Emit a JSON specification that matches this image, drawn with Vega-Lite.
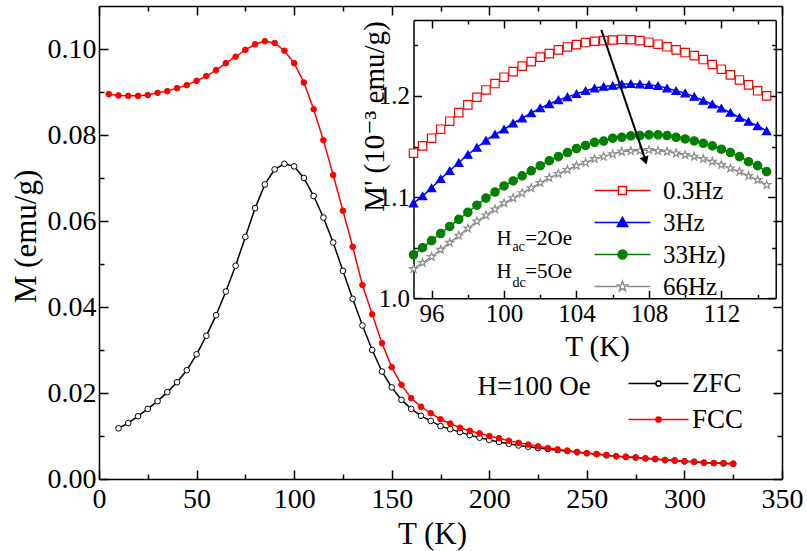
{
  "$schema": "https://vega.github.io/schema/vega-lite/v6.json",
  "width": 683,
  "height": 473,
  "autosize": {"type": "none"},
  "padding": {"left": 99, "top": 6, "right": 25, "bottom": 72},
  "background": "white",
  "datasets": {
    "main": [
      {"s":"ZFC","T":10,"M":0.0118},{"s":"ZFC","T":15,"M":0.0130},{"s":"ZFC","T":20,"M":0.0146},{"s":"ZFC","T":25,"M":0.0163},
      {"s":"ZFC","T":30,"M":0.0181},{"s":"ZFC","T":35,"M":0.0202},{"s":"ZFC","T":40,"M":0.0225},{"s":"ZFC","T":45,"M":0.0253},
      {"s":"ZFC","T":50,"M":0.0290},{"s":"ZFC","T":55,"M":0.0333},{"s":"ZFC","T":60,"M":0.0381},{"s":"ZFC","T":65,"M":0.0436},
      {"s":"ZFC","T":70,"M":0.0496},{"s":"ZFC","T":75,"M":0.0563},{"s":"ZFC","T":80,"M":0.0630},{"s":"ZFC","T":85,"M":0.0685},
      {"s":"ZFC","T":90,"M":0.0720},{"s":"ZFC","T":95,"M":0.0733},{"s":"ZFC","T":100,"M":0.0727},{"s":"ZFC","T":105,"M":0.0700},
      {"s":"ZFC","T":110,"M":0.0658},{"s":"ZFC","T":115,"M":0.0608},{"s":"ZFC","T":120,"M":0.0550},{"s":"ZFC","T":125,"M":0.0484},
      {"s":"ZFC","T":130,"M":0.0419},{"s":"ZFC","T":135,"M":0.0357},{"s":"ZFC","T":140,"M":0.0300},{"s":"ZFC","T":145,"M":0.0250},
      {"s":"ZFC","T":150,"M":0.0213},{"s":"ZFC","T":155,"M":0.0184},{"s":"ZFC","T":160,"M":0.0163},{"s":"ZFC","T":165,"M":0.0147},
      {"s":"ZFC","T":170,"M":0.0135},{"s":"ZFC","T":175,"M":0.0123},{"s":"ZFC","T":180,"M":0.0116},{"s":"ZFC","T":185,"M":0.0109},
      {"s":"ZFC","T":190,"M":0.0102},{"s":"ZFC","T":195,"M":0.0096},{"s":"ZFC","T":200,"M":0.0091},{"s":"ZFC","T":205,"M":0.0086},
      {"s":"ZFC","T":210,"M":0.0082},{"s":"ZFC","T":215,"M":0.0078},{"s":"ZFC","T":220,"M":0.0075},{"s":"ZFC","T":225,"M":0.0072},
      {"s":"ZFC","T":230,"M":0.0070},{"s":"ZFC","T":235,"M":0.0067},{"s":"ZFC","T":240,"M":0.0065},{"s":"ZFC","T":245,"M":0.0062},
      {"s":"ZFC","T":250,"M":0.0060},{"s":"ZFC","T":255,"M":0.0058},{"s":"ZFC","T":260,"M":0.0055},{"s":"ZFC","T":265,"M":0.0053},
      {"s":"ZFC","T":270,"M":0.0051},{"s":"ZFC","T":275,"M":0.0050},{"s":"ZFC","T":280,"M":0.0048},{"s":"ZFC","T":285,"M":0.0046},
      {"s":"ZFC","T":290,"M":0.0044},{"s":"ZFC","T":295,"M":0.0043},{"s":"ZFC","T":300,"M":0.0041},{"s":"ZFC","T":305,"M":0.0040},
      {"s":"ZFC","T":310,"M":0.0038},{"s":"ZFC","T":315,"M":0.0037},{"s":"ZFC","T":320,"M":0.0036},{"s":"ZFC","T":325,"M":0.0035},
      {"s":"FCC","T":5,"M":0.0895},{"s":"FCC","T":10,"M":0.0892},{"s":"FCC","T":15,"M":0.0891},{"s":"FCC","T":20,"M":0.0891},
      {"s":"FCC","T":25,"M":0.0893},{"s":"FCC","T":30,"M":0.0898},{"s":"FCC","T":35,"M":0.0902},{"s":"FCC","T":40,"M":0.0909},
      {"s":"FCC","T":45,"M":0.0916},{"s":"FCC","T":50,"M":0.0926},{"s":"FCC","T":55,"M":0.0937},{"s":"FCC","T":60,"M":0.0951},
      {"s":"FCC","T":65,"M":0.0967},{"s":"FCC","T":70,"M":0.0982},{"s":"FCC","T":75,"M":0.0998},{"s":"FCC","T":80,"M":0.1011},
      {"s":"FCC","T":85,"M":0.1018},{"s":"FCC","T":90,"M":0.1014},{"s":"FCC","T":95,"M":0.0996},{"s":"FCC","T":100,"M":0.0967},
      {"s":"FCC","T":105,"M":0.0922},{"s":"FCC","T":110,"M":0.0860},{"s":"FCC","T":115,"M":0.0788},{"s":"FCC","T":120,"M":0.0707},
      {"s":"FCC","T":125,"M":0.0624},{"s":"FCC","T":130,"M":0.0540},{"s":"FCC","T":135,"M":0.0451},{"s":"FCC","T":140,"M":0.0383},
      {"s":"FCC","T":145,"M":0.0316},{"s":"FCC","T":150,"M":0.0260},{"s":"FCC","T":155,"M":0.0219},{"s":"FCC","T":160,"M":0.0188},
      {"s":"FCC","T":165,"M":0.0168},{"s":"FCC","T":170,"M":0.0153},{"s":"FCC","T":175,"M":0.0139},{"s":"FCC","T":180,"M":0.0129},
      {"s":"FCC","T":185,"M":0.0119},{"s":"FCC","T":190,"M":0.0112},{"s":"FCC","T":195,"M":0.0106},{"s":"FCC","T":200,"M":0.0100},
      {"s":"FCC","T":205,"M":0.0095},{"s":"FCC","T":210,"M":0.0089},{"s":"FCC","T":215,"M":0.0084},{"s":"FCC","T":220,"M":0.0080},
      {"s":"FCC","T":225,"M":0.0076},{"s":"FCC","T":230,"M":0.0072},{"s":"FCC","T":235,"M":0.0069},{"s":"FCC","T":240,"M":0.0066},
      {"s":"FCC","T":245,"M":0.0063},{"s":"FCC","T":250,"M":0.0060},{"s":"FCC","T":255,"M":0.0058},{"s":"FCC","T":260,"M":0.0056},
      {"s":"FCC","T":265,"M":0.0053},{"s":"FCC","T":270,"M":0.0052},{"s":"FCC","T":275,"M":0.0050},{"s":"FCC","T":280,"M":0.0048},
      {"s":"FCC","T":285,"M":0.0047},{"s":"FCC","T":290,"M":0.0044},{"s":"FCC","T":295,"M":0.0043},{"s":"FCC","T":300,"M":0.0041},
      {"s":"FCC","T":305,"M":0.0040},{"s":"FCC","T":310,"M":0.0038},{"s":"FCC","T":315,"M":0.0037},{"s":"FCC","T":320,"M":0.0037},
      {"s":"FCC","T":325,"M":0.0036}
    ],
    "inset": [
      {"f":"0.3Hz","Ti":95,"Mi":1.1434},{"f":"0.3Hz","Ti":95.5,"Mi":1.1506},{"f":"0.3Hz","Ti":96,"Mi":1.1582},{"f":"0.3Hz","Ti":96.5,"Mi":1.1671},
      {"f":"0.3Hz","Ti":97,"Mi":1.1750},{"f":"0.3Hz","Ti":97.5,"Mi":1.1835},{"f":"0.3Hz","Ti":98,"Mi":1.1911},{"f":"0.3Hz","Ti":98.5,"Mi":1.1987},
      {"f":"0.3Hz","Ti":99,"Mi":1.2059},{"f":"0.3Hz","Ti":99.5,"Mi":1.2122},{"f":"0.3Hz","Ti":100,"Mi":1.2185},{"f":"0.3Hz","Ti":100.5,"Mi":1.2240},
      {"f":"0.3Hz","Ti":101,"Mi":1.2294},{"f":"0.3Hz","Ti":101.5,"Mi":1.2339},{"f":"0.3Hz","Ti":102,"Mi":1.2383},{"f":"0.3Hz","Ti":102.5,"Mi":1.2418},
      {"f":"0.3Hz","Ti":103,"Mi":1.2455},{"f":"0.3Hz","Ti":103.5,"Mi":1.2484},{"f":"0.3Hz","Ti":104,"Mi":1.2507},{"f":"0.3Hz","Ti":104.5,"Mi":1.2527},
      {"f":"0.3Hz","Ti":105,"Mi":1.2540},{"f":"0.3Hz","Ti":105.5,"Mi":1.2546},{"f":"0.3Hz","Ti":106,"Mi":1.2552},{"f":"0.3Hz","Ti":106.5,"Mi":1.2558},
      {"f":"0.3Hz","Ti":107,"Mi":1.2555},{"f":"0.3Hz","Ti":107.5,"Mi":1.2546},{"f":"0.3Hz","Ti":108,"Mi":1.2531},{"f":"0.3Hz","Ti":108.5,"Mi":1.2511},
      {"f":"0.3Hz","Ti":109,"Mi":1.2485},{"f":"0.3Hz","Ti":109.5,"Mi":1.2455},{"f":"0.3Hz","Ti":110,"Mi":1.2428},{"f":"0.3Hz","Ti":110.5,"Mi":1.2398},
      {"f":"0.3Hz","Ti":111,"Mi":1.2359},{"f":"0.3Hz","Ti":111.5,"Mi":1.2310},{"f":"0.3Hz","Ti":112,"Mi":1.2264},{"f":"0.3Hz","Ti":112.5,"Mi":1.2208},
      {"f":"0.3Hz","Ti":113,"Mi":1.2158},{"f":"0.3Hz","Ti":113.5,"Mi":1.2109},{"f":"0.3Hz","Ti":114,"Mi":1.2050},{"f":"0.3Hz","Ti":114.5,"Mi":1.2000},
      {"f":"3Hz","Ti":95,"Mi":1.094},{"f":"3Hz","Ti":95.5,"Mi":1.101},{"f":"3Hz","Ti":96,"Mi":1.109},{"f":"3Hz","Ti":96.5,"Mi":1.118},
      {"f":"3Hz","Ti":97,"Mi":1.126},{"f":"3Hz","Ti":97.5,"Mi":1.134},{"f":"3Hz","Ti":98,"Mi":1.142},{"f":"3Hz","Ti":98.5,"Mi":1.149},
      {"f":"3Hz","Ti":99,"Mi":1.156},{"f":"3Hz","Ti":99.5,"Mi":1.162},{"f":"3Hz","Ti":100,"Mi":1.167},{"f":"3Hz","Ti":100.5,"Mi":1.173},
      {"f":"3Hz","Ti":101,"Mi":1.178},{"f":"3Hz","Ti":101.5,"Mi":1.183},{"f":"3Hz","Ti":102,"Mi":1.188},{"f":"3Hz","Ti":102.5,"Mi":1.192},
      {"f":"3Hz","Ti":103,"Mi":1.196},{"f":"3Hz","Ti":103.5,"Mi":1.199},{"f":"3Hz","Ti":104,"Mi":1.202},{"f":"3Hz","Ti":104.5,"Mi":1.205},
      {"f":"3Hz","Ti":105,"Mi":1.2076},{"f":"3Hz","Ti":105.5,"Mi":1.2092},{"f":"3Hz","Ti":106,"Mi":1.2102},{"f":"3Hz","Ti":106.5,"Mi":1.2116},
      {"f":"3Hz","Ti":107,"Mi":1.2119},{"f":"3Hz","Ti":107.5,"Mi":1.2116},{"f":"3Hz","Ti":108,"Mi":1.2109},{"f":"3Hz","Ti":108.5,"Mi":1.2099},
      {"f":"3Hz","Ti":109,"Mi":1.2076},{"f":"3Hz","Ti":109.5,"Mi":1.2050},{"f":"3Hz","Ti":110,"Mi":1.2027},{"f":"3Hz","Ti":110.5,"Mi":1.1993},
      {"f":"3Hz","Ti":111,"Mi":1.1954},{"f":"3Hz","Ti":111.5,"Mi":1.1918},{"f":"3Hz","Ti":112,"Mi":1.1878},{"f":"3Hz","Ti":112.5,"Mi":1.1835},
      {"f":"3Hz","Ti":113,"Mi":1.1786},{"f":"3Hz","Ti":113.5,"Mi":1.1746},{"f":"3Hz","Ti":114,"Mi":1.1703},{"f":"3Hz","Ti":114.5,"Mi":1.1654},
      {"f":"33Hz)","Ti":95,"Mi":1.043},{"f":"33Hz)","Ti":95.5,"Mi":1.050},{"f":"33Hz)","Ti":96,"Mi":1.057},{"f":"33Hz)","Ti":96.5,"Mi":1.064},
      {"f":"33Hz)","Ti":97,"Mi":1.071},{"f":"33Hz)","Ti":97.5,"Mi":1.078},{"f":"33Hz)","Ti":98,"Mi":1.085},{"f":"33Hz)","Ti":98.5,"Mi":1.092},
      {"f":"33Hz)","Ti":99,"Mi":1.099},{"f":"33Hz)","Ti":99.5,"Mi":1.105},{"f":"33Hz)","Ti":100,"Mi":1.111},{"f":"33Hz)","Ti":100.5,"Mi":1.116},
      {"f":"33Hz)","Ti":101,"Mi":1.121},{"f":"33Hz)","Ti":101.5,"Mi":1.126},{"f":"33Hz)","Ti":102,"Mi":1.131},{"f":"33Hz)","Ti":102.5,"Mi":1.136},
      {"f":"33Hz)","Ti":103,"Mi":1.140},{"f":"33Hz)","Ti":103.5,"Mi":1.144},{"f":"33Hz)","Ti":104,"Mi":1.148},{"f":"33Hz)","Ti":104.5,"Mi":1.151},
      {"f":"33Hz)","Ti":105,"Mi":1.1541},{"f":"33Hz)","Ti":105.5,"Mi":1.1554},{"f":"33Hz)","Ti":106,"Mi":1.1582},{"f":"33Hz)","Ti":106.5,"Mi":1.1591},
      {"f":"33Hz)","Ti":107,"Mi":1.1605},{"f":"33Hz)","Ti":107.5,"Mi":1.1608},{"f":"33Hz)","Ti":108,"Mi":1.1615},{"f":"33Hz)","Ti":108.5,"Mi":1.1615},
      {"f":"33Hz)","Ti":109,"Mi":1.1608},{"f":"33Hz)","Ti":109.5,"Mi":1.1591},{"f":"33Hz)","Ti":110,"Mi":1.1575},{"f":"33Hz)","Ti":110.5,"Mi":1.1555},
      {"f":"33Hz)","Ti":111,"Mi":1.1532},{"f":"33Hz)","Ti":111.5,"Mi":1.1506},{"f":"33Hz)","Ti":112,"Mi":1.1473},{"f":"33Hz)","Ti":112.5,"Mi":1.1440},
      {"f":"33Hz)","Ti":113,"Mi":1.1400},{"f":"33Hz)","Ti":113.5,"Mi":1.1350},{"f":"33Hz)","Ti":114,"Mi":1.1311},{"f":"33Hz)","Ti":114.5,"Mi":1.1252},
      {"f":"66Hz","Ti":95,"Mi":1.029},{"f":"66Hz","Ti":95.5,"Mi":1.035},{"f":"66Hz","Ti":96,"Mi":1.041},{"f":"66Hz","Ti":96.5,"Mi":1.048},
      {"f":"66Hz","Ti":97,"Mi":1.055},{"f":"66Hz","Ti":97.5,"Mi":1.062},{"f":"66Hz","Ti":98,"Mi":1.069},{"f":"66Hz","Ti":98.5,"Mi":1.076},
      {"f":"66Hz","Ti":99,"Mi":1.082},{"f":"66Hz","Ti":99.5,"Mi":1.088},{"f":"66Hz","Ti":100,"Mi":1.094},{"f":"66Hz","Ti":100.5,"Mi":1.099},
      {"f":"66Hz","Ti":101,"Mi":1.104},{"f":"66Hz","Ti":101.5,"Mi":1.109},{"f":"66Hz","Ti":102,"Mi":1.114},{"f":"66Hz","Ti":102.5,"Mi":1.119},
      {"f":"66Hz","Ti":103,"Mi":1.123},{"f":"66Hz","Ti":103.5,"Mi":1.127},{"f":"66Hz","Ti":104,"Mi":1.131},{"f":"66Hz","Ti":104.5,"Mi":1.134},
      {"f":"66Hz","Ti":105,"Mi":1.1377},{"f":"66Hz","Ti":105.5,"Mi":1.1400},{"f":"66Hz","Ti":106,"Mi":1.1424},{"f":"66Hz","Ti":106.5,"Mi":1.1450},
      {"f":"66Hz","Ti":107,"Mi":1.1456},{"f":"66Hz","Ti":107.5,"Mi":1.1460},{"f":"66Hz","Ti":108,"Mi":1.1466},{"f":"66Hz","Ti":108.5,"Mi":1.1456},
      {"f":"66Hz","Ti":109,"Mi":1.1450},{"f":"66Hz","Ti":109.5,"Mi":1.1433},{"f":"66Hz","Ti":110,"Mi":1.1417},{"f":"66Hz","Ti":110.5,"Mi":1.1400},
      {"f":"66Hz","Ti":111,"Mi":1.1377},{"f":"66Hz","Ti":111.5,"Mi":1.1350},{"f":"66Hz","Ti":112,"Mi":1.1318},{"f":"66Hz","Ti":112.5,"Mi":1.1285},
      {"f":"66Hz","Ti":113,"Mi":1.1252},{"f":"66Hz","Ti":113.5,"Mi":1.1209},{"f":"66Hz","Ti":114,"Mi":1.1170},{"f":"66Hz","Ti":114.5,"Mi":1.1120}
    ]
  },
  "layer": [
    {
      "data": {"name": "main"},
      "encoding": {
        "x": {
          "field": "T", "type": "quantitative",
          "scale": {"domain": [0, 350], "nice": false},
          "axis": {
            "orient": "bottom",
            "values": [0, 25, 50, 75, 100, 125, 150, 175, 200, 225, 250, 275, 300, 325, 350],
            "labelExpr": "datum.value % 50 === 0 ? datum.label : ''",
            "tickSize": {"condition": {"test": "datum.value % 50 === 0", "value": -9}, "value": -5},
            "labelPadding": 15, "labelFontSize": 28, "labelFlush": false, "labelOverlap": false,
            "title": "T (K)", "titleFontSize": 31, "titleX": 333, "titleY": 64,
            "titleAlign": "center", "titleBaseline": "alphabetic"
          }
        },
        "y": {
          "field": "M", "type": "quantitative",
          "scale": {"domain": [0, 0.11], "nice": false},
          "axis": {
            "orient": "left",
            "values": [0, 0.01, 0.02, 0.03, 0.04, 0.05, 0.06, 0.07, 0.08, 0.09, 0.1],
            "labelExpr": "round(datum.value * 100) % 2 === 0 ? format(datum.value, '.2f') : ''",
            "tickSize": {"condition": {"test": "round(datum.value * 100) % 2 === 0", "value": -9}, "value": -5},
            "labelPadding": 12, "labelFontSize": 28, "labelOverlap": false,
            "title": "M (emu/g)", "titleFontSize": 31, "titleX": -64, "titleY": 230,
            "titleAngle": -90, "titleAlign": "center", "titleBaseline": "alphabetic"
          }
        },
        "color": {
          "field": "s", "type": "nominal",
          "scale": {"domain": ["ZFC", "FCC"], "range": ["black", "#ff0000"]},
          "legend": null
        }
      },
      "layer": [
        {"mark": {"type": "line", "strokeWidth": 1.5}},
        {
          "mark": {"type": "point", "filled": false, "size": 32, "strokeWidth": 1, "opacity": 1},
          "encoding": {
            "fill": {
              "field": "s", "type": "nominal",
              "scale": {"domain": ["ZFC", "FCC"], "range": ["white", "#ff0000"]},
              "legend": null
            }
          }
        },
        {
          "data": {"values": [{"label": "H=100 Oe", "T": 193.9, "M": 0.0195}]},
          "mark": {"type": "text", "align": "left", "baseline": "alphabetic", "fontSize": 27},
          "encoding": {"text": {"field": "label"}, "color": {"value": "black"}}
        }
      ]
    },
    {
      "data": {"name": "main"},
      "mark": {"type": "point", "opacity": 0},
      "encoding": {
        "x": {
          "field": "T", "type": "quantitative",
          "scale": {"domain": [0, 350], "nice": false},
          "axis": {
            "orient": "top", "labels": false, "title": null,
            "values": [0, 25, 50, 75, 100, 125, 150, 175, 200, 225, 250, 275, 300, 325, 350],
            "tickSize": {"condition": {"test": "datum.value % 50 === 0", "value": -9}, "value": -5}
          }
        },
        "y": {
          "field": "M", "type": "quantitative",
          "scale": {"domain": [0, 0.11], "nice": false},
          "axis": {
            "orient": "right", "labels": false, "title": null,
            "values": [0, 0.01, 0.02, 0.03, 0.04, 0.05, 0.06, 0.07, 0.08, 0.09, 0.1],
            "tickSize": {"condition": {"test": "round(datum.value * 100) % 2 === 0", "value": -9}, "value": -5}
          }
        }
      }
    },
    {
      "data": {"name": "inset"},
      "encoding": {
        "x": {
          "field": "Ti", "type": "quantitative",
          "scale": {"domain": [95, 115], "range": [314.5, 676.7], "nice": false, "zero": false},
          "axis": {
            "orient": "bottom", "offset": -180.7,
            "values": [96, 98, 100, 102, 104, 106, 108, 110, 112, 114],
            "labelExpr": "datum.value % 4 === 0 ? datum.label : ''",
            "tickSize": {"condition": {"test": "datum.value % 4 === 0", "value": -8}, "value": -4},
            "labelPadding": 11, "labelFontSize": 25, "labelFlush": false, "labelOverlap": false,
            "title": "T (K)", "titleFontSize": 29, "titleX": 498, "titleY": 57,
            "titleAlign": "center", "titleBaseline": "alphabetic"
          }
        },
        "y": {
          "field": "Mi", "type": "quantitative",
          "scale": {"domain": [1, 1.275], "range": [292.3, 14], "nice": false, "zero": false},
          "axis": {
            "orient": "left", "offset": -314.5,
            "values": [1, 1.05, 1.1, 1.15, 1.2, 1.25],
            "labelExpr": "round(datum.value * 100) % 10 === 0 ? format(datum.value, '.1f') : ''",
            "tickSize": {"condition": {"test": "round(datum.value * 100) % 10 === 0", "value": -8}, "value": -4},
            "labelPadding": 12, "labelFontSize": 25, "labelOverlap": false,
            "title": "M' (10⁻³ emu/g)", "titleFontSize": 29, "titleX": -30, "titleY": 110,
            "titleAngle": -90, "titleAlign": "center", "titleBaseline": "alphabetic"
          }
        },
        "color": {
          "field": "f", "type": "nominal",
          "scale": {"domain": ["0.3Hz", "3Hz", "33Hz)", "66Hz"], "range": ["#ff0000", "#0000ff", "#008000", "#8c8c8c"]},
          "legend": null
        }
      },
      "layer": [
        {"mark": {"type": "line", "strokeWidth": 1.5}},
        {
          "mark": {"type": "point", "filled": false, "size": 70, "strokeWidth": 1.2, "opacity": 1},
          "encoding": {
            "shape": {
              "field": "f", "type": "nominal",
              "scale": {
                "domain": ["0.3Hz", "3Hz", "33Hz)", "66Hz"],
                "range": ["square", "triangle-up", "circle", "M0,-1L0.235,-0.324L0.951,-0.309L0.380,0.124L0.588,0.809L0,0.4L-0.588,0.809L-0.380,0.124L-0.951,-0.309L-0.235,-0.324Z"]
              },
              "legend": null
            },
            "fill": {
              "field": "f", "type": "nominal",
              "scale": {"domain": ["0.3Hz", "3Hz", "33Hz)", "66Hz"], "range": ["white", "#0000ff", "#008000", "white"]},
              "legend": null
            }
          }
        },
        {
          "data": {"values": [{"Ti": 105.37, "Mi": 1.2653, "Ti2": 107.8, "Mi2": 1.137}]},
          "mark": {"type": "rule", "strokeWidth": 2},
          "encoding": {"x2": {"field": "Ti2"}, "y2": {"field": "Mi2"}, "color": {"value": "black"}}
        },
        {
          "data": {"values": [{"Ti": 107.8, "Mi": 1.136}]},
          "mark": {"type": "point", "shape": "triangle-down", "angle": -18, "size": 90, "filled": true, "opacity": 1},
          "encoding": {"color": {"value": "black"}}
        },
        {
          "data": {"values": [
            {"label": "H", "Ti": 99.58, "Mi": 1.0527},
            {"label": "=2Oe", "Ti": 101.17, "Mi": 1.0527},
            {"label": "H", "Ti": 99.58, "Mi": 1.0198},
            {"label": "=5Oe", "Ti": 101.17, "Mi": 1.0198}
          ]},
          "mark": {"type": "text", "align": "left", "baseline": "alphabetic", "fontSize": 21},
          "encoding": {"text": {"field": "label"}, "color": {"value": "black"}}
        },
        {
          "data": {"values": [
            {"label": "ac", "Ti": 100.46, "Mi": 1.0471},
            {"label": "dc", "Ti": 100.46, "Mi": 1.0115}
          ]},
          "mark": {"type": "text", "align": "left", "baseline": "alphabetic", "fontSize": 14},
          "encoding": {"text": {"field": "label"}, "color": {"value": "black"}}
        }
      ]
    },
    {
      "data": {"name": "inset"},
      "mark": {"type": "point", "opacity": 0},
      "encoding": {
        "x": {
          "field": "Ti", "type": "quantitative",
          "scale": {"domain": [95, 115], "range": [314.5, 676.7], "nice": false, "zero": false},
          "axis": {
            "orient": "top", "offset": -14, "labels": false, "title": null,
            "values": [96, 98, 100, 102, 104, 106, 108, 110, 112, 114],
            "tickSize": {"condition": {"test": "datum.value % 4 === 0", "value": -8}, "value": -4}
          }
        },
        "y": {
          "field": "Mi", "type": "quantitative",
          "scale": {"domain": [1, 1.275], "range": [292.3, 14], "nice": false, "zero": false},
          "axis": {
            "orient": "right", "offset": -6.3, "labels": false, "title": null,
            "values": [1, 1.05, 1.1, 1.15, 1.2, 1.25],
            "tickSize": {"condition": {"test": "round(datum.value * 100) % 10 === 0", "value": -8}, "value": -4}
          }
        }
      }
    },
    {
      "data": {"values": [{"s": "ZFC"}, {"s": "FCC"}]},
      "transform": [{"filter": "false"}],
      "mark": {"type": "point", "filled": false, "strokeWidth": 1.5, "opacity": 1},
      "encoding": {
        "color": {
          "field": "s", "type": "nominal",
          "scale": {"domain": ["ZFC", "FCC"], "range": ["black", "#ff0000"]},
          "legend": {
            "orient": "none", "legendX": 546, "legendY": 364, "title": null,
            "symbolSize": 64, "symbolStrokeWidth": 1.5,
            "labelFontSize": 27, "labelOffset": 20, "rowPadding": 8
          }
        },
        "fill": {
          "field": "s", "type": "nominal",
          "scale": {"domain": ["ZFC", "FCC"], "range": ["white", "#ff0000"]},
          "legend": {
            "orient": "none", "legendX": 546, "legendY": 364, "title": null,
            "symbolSize": 64, "symbolStrokeWidth": 1.5,
            "labelFontSize": 27, "labelOffset": 20, "rowPadding": 8
          }
        },
        "shape": {
          "field": "s", "type": "nominal",
          "scale": {
            "domain": ["ZFC", "FCC"],
            "range": [
              "M-7.5,0H-0.65M0.65,0H7.5M0.65,0A0.65,0.65,0,1,1,-0.65,0A0.65,0.65,0,1,1,0.65,0Z",
              "M-7.5,0H7.5M0.65,0A0.65,0.65,0,1,1,-0.65,0A0.65,0.65,0,1,1,0.65,0Z"
            ]
          },
          "legend": {
            "orient": "none", "legendX": 546, "legendY": 364, "title": null,
            "symbolSize": 64, "symbolStrokeWidth": 1.5,
            "labelFontSize": 27, "labelOffset": 20, "rowPadding": 8
          }
        }
      }
    },
    {
      "data": {"values": [{"f": "0.3Hz"}, {"f": "3Hz"}, {"f": "33Hz)"}, {"f": "66Hz"}]},
      "transform": [{"filter": "false"}],
      "mark": {"type": "point", "filled": false, "strokeWidth": 1.5, "opacity": 1},
      "encoding": {
        "color": {
          "field": "f", "type": "nominal",
          "scale": {"domain": ["0.3Hz", "3Hz", "33Hz)", "66Hz"], "range": ["#ff0000", "#0000ff", "#008000", "#8c8c8c"]},
          "legend": {
            "orient": "none", "legendX": 511, "legendY": 172, "title": null,
            "symbolSize": 64, "symbolStrokeWidth": 1.5,
            "labelFontSize": 25, "labelOffset": 28, "rowPadding": 6
          }
        },
        "fill": {
          "field": "f", "type": "nominal",
          "scale": {"domain": ["0.3Hz", "3Hz", "33Hz)", "66Hz"], "range": ["white", "#0000ff", "#008000", "white"]},
          "legend": {
            "orient": "none", "legendX": 511, "legendY": 172, "title": null,
            "symbolSize": 64, "symbolStrokeWidth": 1.5,
            "labelFontSize": 25, "labelOffset": 28, "rowPadding": 6
          }
        },
        "shape": {
          "field": "f", "type": "nominal",
          "scale": {
            "domain": ["0.3Hz", "3Hz", "33Hz)", "66Hz"],
            "range": [
              "M-7,0H-1M1,0H7M-1,-1H1V1H-1Z",
              "M-7,0H7M0,-1.3L1.3,1L-1.3,1Z",
              "M-7,0H7M1.1,0A1.1,1.1,0,1,1,-1.1,0A1.1,1.1,0,1,1,1.1,0Z",
              "M-7,0H-1.2M1.2,0H7M0,-1.3L0.306,-0.421L1.236,-0.402L0.495,0.161L0.764,1.052L0,0.52L-0.764,1.052L-0.495,0.161L-1.236,-0.402L-0.306,-0.421Z"
            ]
          },
          "legend": {
            "orient": "none", "legendX": 511, "legendY": 172, "title": null,
            "symbolSize": 64, "symbolStrokeWidth": 1.5,
            "labelFontSize": 25, "labelOffset": 28, "rowPadding": 6
          }
        }
      }
    }
  ],
  "resolve": {
    "scale": {"x": "independent", "y": "independent", "color": "independent", "fill": "independent", "shape": "independent"},
    "axis": {"x": "independent", "y": "independent"},
    "legend": {"color": "independent", "fill": "independent", "shape": "independent"}
  },
  "config": {
    "font": "Liberation Serif, Times New Roman, DejaVu Serif, serif",
    "view": {"stroke": null},
    "axis": {
      "grid": false,
      "labelFont": "Liberation Serif, Times New Roman, DejaVu Serif, serif",
      "titleFont": "Liberation Serif, Times New Roman, DejaVu Serif, serif",
      "labelColor": "black", "titleColor": "black", "titleFontWeight": "normal",
      "domainColor": "black", "tickColor": "black", "domainWidth": 1.5, "tickWidth": 1.5
    },
    "legend": {"labelFont": "Liberation Serif, Times New Roman, DejaVu Serif, serif", "labelColor": "black", "labelLimit": 300},
    "text": {"font": "Liberation Serif, Times New Roman, DejaVu Serif, serif", "color": "black"}
  }
}
